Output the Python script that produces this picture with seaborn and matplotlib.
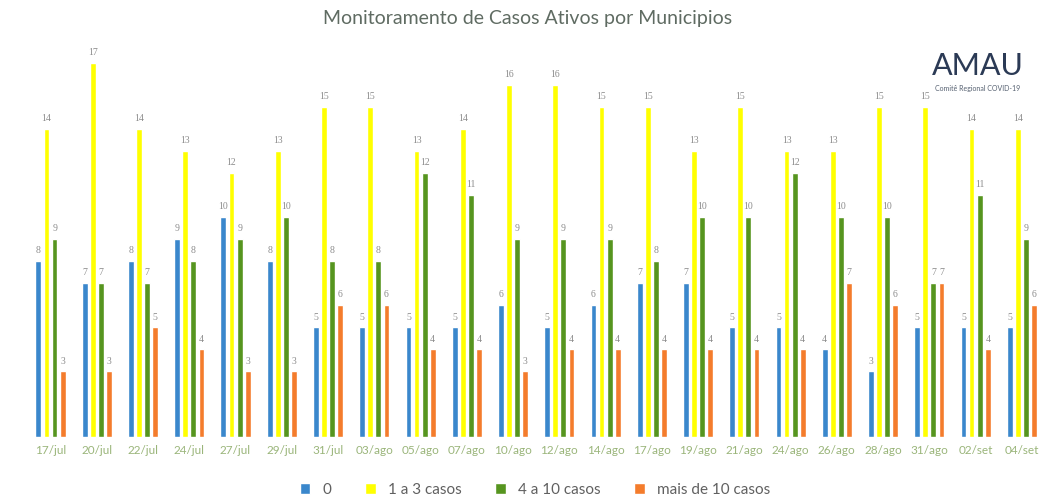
import pandas as pd
import matplotlib.pyplot as plt
import seaborn as sns

datas = ['17/jul', '20/jul', '22/jul', '24/jul', '27/jul', '29/jul', '31/jul', '03/ago',
         '05/ago', '07/ago', '10/ago', '12/ago', '14/ago', '17/ago', '19/ago', '21/ago',
         '24/ago', '26/ago', '28/ago', '31/ago', '02/set', '04/set']
zero = [8, 7, 8, 9, 10, 8, 5, 5, 5, 5, 6, 5, 6, 7, 7, 5, 5, 4, 3, 5, 5, 5]
um_a_tres = [14, 17, 14, 13, 12, 13, 15, 15, 13, 14, 16, 16, 15, 15, 13, 15, 13, 13, 15, 15, 14, 14]
quatro_a_dez = [9, 7, 7, 8, 9, 10, 8, 8, 12, 11, 9, 9, 9, 8, 10, 10, 12, 10, 10, 7, 11, 9]
mais_de_dez = [3, 3, 5, 4, 3, 3, 6, 6, 4, 4, 3, 4, 4, 4, 4, 4, 4, 7, 6, 7, 4, 6]

series = ['0', '1 a 3 casos', '4 a 10 casos', 'mais de 10 casos']
cores = ['#3a87cc', '#ffff00', '#56951f', '#f47c2c']

df = pd.DataFrame({'Data': datas, series[0]: zero, series[1]: um_a_tres,
                   series[2]: quatro_a_dez, series[3]: mais_de_dez})
df_long = df.melt(id_vars='Data', var_name='Faixa', value_name='Municipios')

sns.set_style('white')
plt.rcParams['font.family'] = ['Lato', 'DejaVu Sans']

fig = plt.figure(figsize=(10.45, 4.99), dpi=100)
ax = fig.add_axes([0.024, 0.124, 0.976, 0.794])

sns.barplot(data=df_long, x='Data', y='Municipios', hue='Faixa', hue_order=series,
            palette=cores, width=0.7, gap=0.28, saturation=1, ax=ax)

for c in ax.containers:
    ax.bar_label(c, fontsize=7, color='#8c8c8c', padding=4, family='Liberation Serif')

ax.set_ylim(0, 18)
ax.set_xlim(-0.55, 21.5)
sns.despine(ax=ax, left=True, bottom=True)
ax.set_yticks([])
ax.set_xlabel('')
ax.set_ylabel('')
ax.tick_params(axis='x', length=0, labelsize=8.5, labelcolor='#9ab57a', pad=6)

ax.legend(loc='upper center', bbox_to_anchor=(0.5, -0.08), ncol=4, frameon=False,
          fontsize=11, handlelength=0.7, handleheight=0.7, columnspacing=2.2,
          labelcolor='#606060')

fig.text(0.505, 0.962, 'Monitoramento de Casos Ativos por Municipios', ha='center', va='center',
         fontsize=14, color='#5f6b62')
fig.text(0.936, 0.868, 'AMAU', ha='center', va='center', fontsize=22, color='#2b3a55')
fig.text(0.936, 0.823, 'Comitê Regional COVID-19', ha='center', va='center', fontsize=5,
         color='#556070')

fig.savefig('out.png', dpi=100)
plt.close(fig)
